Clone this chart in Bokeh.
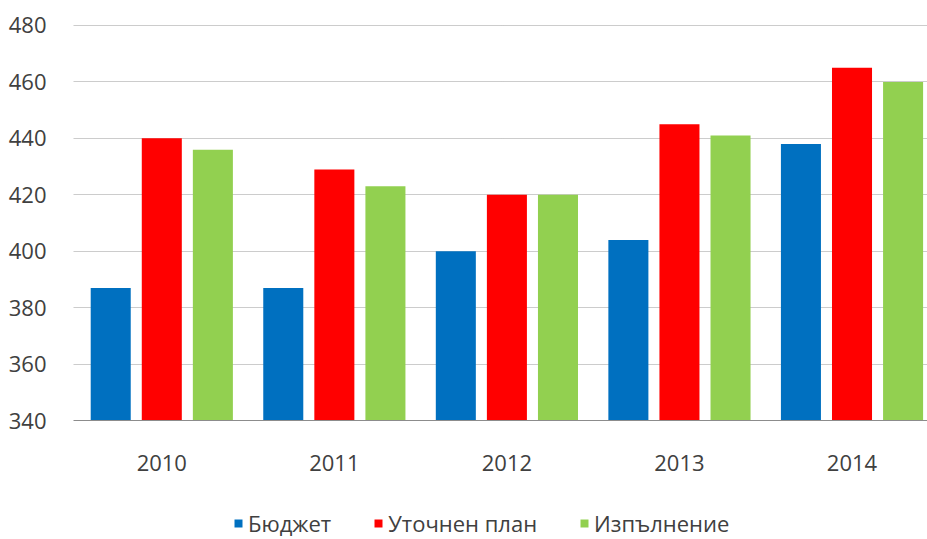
from bokeh.plotting import figure
from bokeh.layouts import column
from bokeh.models import ColumnDataSource, Legend, LegendItem, FixedTicker, Range1d
from bokeh.embed import file_html
from bokeh.resources import INLINE

years = ["2010", "2011", "2012", "2013", "2014"]
budget = [387, 387, 400, 404, 438]
plan = [440, 429, 420, 445, 465]
actual = [436, 423, 420, 441, 460]
series_names = ["Бюджет", "Уточнен план", "Изпълнение"]
colors = ["#0070C0", "#FF0000", "#92D050"]
y_ticks = [340, 360, 380, 400, 420, 440, 460, 480]

FONT = "Open Sans"
idx = list(range(len(years)))
series = [budget, plan, actual]

p = figure(width=927, height=480, output_backend="svg", toolbar_location=None,
           x_range=Range1d(-0.5117, 4.4375), y_range=Range1d(340, 483.54),
           min_border_left=73, min_border_right=0, min_border_top=15, min_border_bottom=60)
p.outline_line_color = None
p.background_fill_color = "white"

offsets = [-0.296, 0.0, 0.296]
for vals, off, col in zip(series, offsets, colors):
    src = ColumnDataSource(dict(x=[i + off for i in idx], top=vals))
    p.vbar(x="x", top="top", bottom=340, width=0.232, source=src,
           fill_color=col, line_color=None)

# axes
p.yaxis.ticker = FixedTicker(ticks=y_ticks)
p.yaxis.axis_line_color = None
p.yaxis.major_tick_line_color = None
p.yaxis.minor_tick_line_color = None
p.yaxis.major_label_text_font = FONT
p.yaxis.major_label_text_font_size = "22px"
p.yaxis.major_label_text_color = "#404040"
p.yaxis.major_label_standoff = 21

p.xaxis.ticker = FixedTicker(ticks=idx)
p.xaxis.major_label_overrides = {i: y for i, y in zip(idx, years)}
p.xaxis.axis_line_color = "#8c8c8c"
p.xaxis.axis_line_width = 1
p.xaxis.major_tick_line_color = None
p.xaxis.minor_tick_line_color = None
p.xaxis.major_label_text_font = FONT
p.xaxis.major_label_text_font_size = "22px"
p.xaxis.major_label_text_color = "#404040"
p.xaxis.major_label_standoff = 28

p.xgrid.grid_line_color = None
p.ygrid.ticker = FixedTicker(ticks=y_ticks[1:])
p.ygrid.grid_line_color = "#999999"
p.ygrid.grid_line_dash = "1 1"
p.ygrid.grid_line_width = 1

# legend strip (hidden copies of the series supply the legend swatches)
leg = figure(width=927, height=58, output_backend="svg", toolbar_location=None,
             x_range=Range1d(0, 1), y_range=Range1d(0, 1),
             min_border_left=73, min_border_right=0, min_border_top=0, min_border_bottom=0)
leg.axis.visible = False
leg.grid.visible = False
leg.outline_line_color = None
items = []
for n, vals, col in zip(series_names, series, colors):
    r = leg.vbar(x="x", top="top", width=0.1, source=ColumnDataSource(dict(x=idx, top=vals)),
                 fill_color=col, line_color=None, visible=False)
    items.append(LegendItem(label=n, renderers=[r]))

legend = Legend(items=items, orientation="horizontal", location=(160, 0),
                label_text_font=FONT, label_text_font_size="22px",
                label_text_color="#404040", glyph_width=10, glyph_height=10,
                label_standoff=5, spacing=42, padding=0, margin=0,
                border_line_color=None, background_fill_alpha=0)
leg.add_layout(legend)

layout = column(p, leg, spacing=0)
open("out.html", "w").write(file_html(layout, INLINE))
